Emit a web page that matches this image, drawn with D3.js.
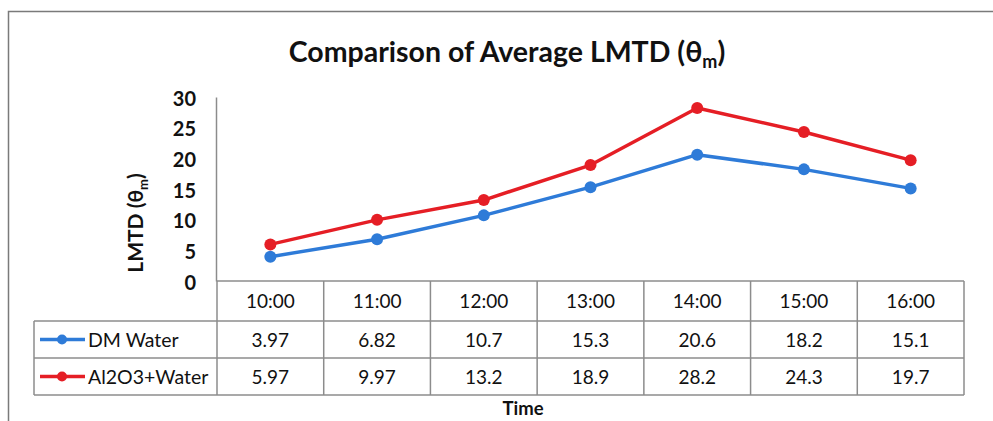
<!DOCTYPE html>
<html>
<head>
<meta charset="utf-8">
<script src="https://cdn.jsdelivr.net/npm/d3@7"></script>
<style>
  html, body { margin: 0; padding: 0; background: #fff; }
  svg { display: block; font-family: Lato, "Open Sans", sans-serif; }
</style>
</head>
<body>
<svg id="chart" width="993" height="421"></svg>
<script>
// Hourly readings
const times = ["10:00", "11:00", "12:00", "13:00", "14:00", "15:00", "16:00"];
const dmWater = [3.97, 6.82, 10.7, 15.3, 20.6, 18.2, 15.1];
const al2o3Water = [5.97, 9.97, 13.2, 18.9, 28.2, 24.3, 19.7];
const seriesNames = ["DM Water", "Al2O3+Water"];
const seriesColors = ["#2e7bd8", "#e51e25"];
const yTicks = [0, 5, 10, 15, 20, 25, 30];

const series = [
  { name: seriesNames[0], color: seriesColors[0], values: dmWater },
  { name: seriesNames[1], color: seriesColors[1], values: al2o3Water }
];

const svg = d3.select("#chart");
const gridColor = "#8c8c8c";
const ink = "#111";

// outer chart frame
svg.append("rect")
  .attr("x", 8.5).attr("y", 11.5)
  .attr("width", 1000).attr("height", 430)
  .attr("fill", "none").attr("stroke", "#7a7a7a").attr("stroke-width", 1.5);

// scales
const x = d3.scaleBand().domain(times).range([217, 964]);
const y = d3.scaleLinear().domain([0, 30]).range([281, 97]);

// title
const title = svg.append("text")
  .attr("x", 507).attr("y", 62)
  .attr("text-anchor", "middle")
  .attr("font-size", 28.5).attr("font-weight", 700)
  .attr("fill", ink);
title.append("tspan").text("Comparison of Average LMTD (θ");
title.append("tspan").attr("font-size", 18).attr("dy", 6).text("m");
title.append("tspan").attr("dy", -6).text(")");

// y axis
const yAxis = d3.axisLeft(y).tickValues(yTicks).tickSize(0).tickPadding(20);
const gy = svg.append("g").attr("transform", "translate(216,0)").call(yAxis);
gy.select(".domain").attr("stroke", gridColor).attr("stroke-width", 1.5);
gy.selectAll("text")
  .attr("font-family", "Lato, sans-serif")
  .attr("font-size", 20).attr("font-weight", 700).attr("fill", ink)
  .attr("dy", "0.4em");

// y axis label
const yl = svg.append("text")
  .attr("transform", "translate(143,223) rotate(-90)")
  .attr("text-anchor", "middle")
  .attr("font-size", 21).attr("font-weight", 700).attr("fill", ink);
yl.append("tspan").text("LMTD (θ");
yl.append("tspan").attr("font-size", 13).attr("dy", 5).text("m");
yl.append("tspan").attr("dy", -5).text(")");

// lines and markers
const line = d3.line()
  .x((d, i) => x(times[i]) + x.bandwidth() / 2)
  .y(d => y(d));

series.forEach(s => {
  svg.append("path")
    .datum(s.values)
    .attr("d", line)
    .attr("fill", "none")
    .attr("stroke", s.color)
    .attr("stroke-width", 3.5)
    .attr("stroke-linejoin", "round");
  svg.append("g").selectAll("circle")
    .data(s.values)
    .join("circle")
    .attr("cx", (d, i) => x(times[i]) + x.bandwidth() / 2)
    .attr("cy", d => y(d))
    .attr("r", 6)
    .attr("fill", s.color);
});

// data table below the plot
const rowTop = [281, 321, 358, 395];
const legendLeft = 34;
const tbl = svg.append("g");

// horizontal rules
tbl.append("line").attr("x1", 217).attr("x2", x.range()[1]).attr("y1", rowTop[0]).attr("y2", rowTop[0]);
[rowTop[1], rowTop[2], rowTop[3]].forEach(yy => {
  tbl.append("line").attr("x1", legendLeft).attr("x2", x.range()[1]).attr("y1", yy).attr("y2", yy);
});
// vertical rules
times.forEach(t => {
  tbl.append("line").attr("x1", x(t)).attr("x2", x(t)).attr("y1", rowTop[0]).attr("y2", rowTop[3]);
});
tbl.append("line").attr("x1", x.range()[1]).attr("x2", x.range()[1]).attr("y1", rowTop[0]).attr("y2", rowTop[3]);
tbl.append("line").attr("x1", legendLeft).attr("x2", legendLeft).attr("y1", rowTop[1]).attr("y2", rowTop[3]);
tbl.selectAll("line").attr("stroke", gridColor).attr("stroke-width", 1.5);

const cellFont = 19;

// header cells
tbl.selectAll("text.hdr")
  .data(times)
  .join("text")
  .attr("class", "hdr")
  .attr("x", d => x(d) + x.bandwidth() / 2)
  .attr("y", (rowTop[0] + rowTop[1]) / 2 + 7)
  .attr("text-anchor", "middle")
  .attr("font-size", cellFont).attr("fill", ink)
  .text(d => d);

// value rows with legend keys
series.forEach((s, k) => {
  const cy = (rowTop[k + 1] + rowTop[k + 2]) / 2;
  tbl.append("line")
    .attr("x1", 40).attr("x2", 85).attr("y1", cy).attr("y2", cy)
    .attr("stroke", s.color).attr("stroke-width", 3.5);
  tbl.append("circle").attr("cx", 62).attr("cy", cy).attr("r", 5).attr("fill", s.color);
  tbl.append("text")
    .attr("x", 88).attr("y", cy + 7)
    .attr("font-size", 19.5).attr("fill", ink)
    .text(s.name);
  tbl.selectAll(null)
    .data(s.values)
    .join("text")
    .attr("x", (d, i) => x(times[i]) + x.bandwidth() / 2)
    .attr("y", cy + 7)
    .attr("text-anchor", "middle")
    .attr("font-size", cellFont).attr("fill", ink)
    .text(d => d);
});

// x axis label
svg.append("text")
  .attr("x", 523).attr("y", 415)
  .attr("text-anchor", "middle")
  .attr("font-size", 18.5).attr("font-weight", 700).attr("fill", ink)
  .text("Time");
</script>
</body>
</html>
